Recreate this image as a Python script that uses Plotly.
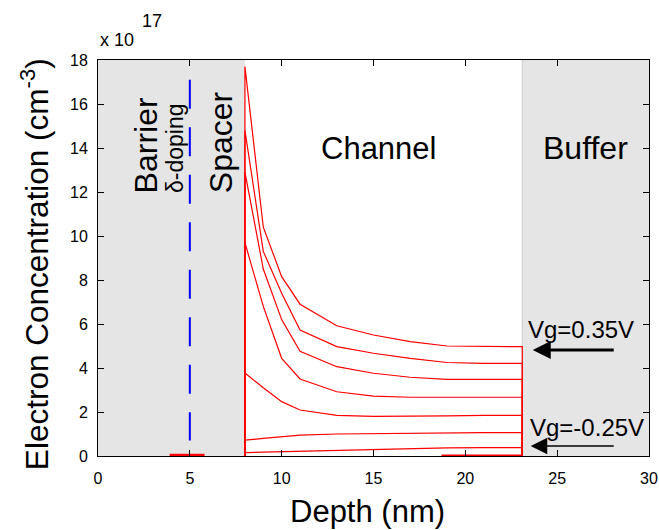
import plotly.graph_objects as go

# ---- data ----
DEPTH = [8, 9, 10, 11, 13, 15, 17, 19, 21, 23.1]
VG_LABELS = ["0.35V", "0.25V", "0.15V", "0.05V", "-0.05V", "-0.15V", "-0.25V"]
N_035 = [17.7, 10.4, 8.15, 6.9, 5.92, 5.5, 5.2, 5.0, 4.97, 4.97]
N_025 = [14.8, 9.3, 7.4, 5.73, 4.97, 4.67, 4.44, 4.25, 4.21, 4.21]
N_015 = [12.9, 8.5, 6.2, 4.76, 4.06, 3.76, 3.58, 3.48, 3.48, 3.48]
N_005 = [9.7, 6.8, 4.44, 3.5, 2.92, 2.72, 2.67, 2.67, 2.67, 2.67]
N_M005 = [3.77, 3.1, 2.47, 2.09, 1.85, 1.8, 1.8, 1.82, 1.85, 1.85]
N_M015 = [0.72, 0.8, 0.88, 0.95, 1.0, 1.02, 1.03, 1.06, 1.06, 1.06]
N_M025 = [0.15, 0.18, 0.2, 0.22, 0.28, 0.32, 0.35, 0.37, 0.38, 0.38]
SERIES = [N_035, N_025, N_015, N_005, N_M005, N_M015, N_M025]

BARRIER_DEPTH = [3.9, 5.8]
BARRIER_N = [0.05, 0.05]
FLOOR_DEPTH = [18.7, 23.1]
FLOOR_N = [0.02, 0.02]
DELTA_DEPTH = [5, 5]
DELTA_N = [17.1, 0.7]

REGIONS = [(0, 8), (23.1, 30)]
X_TICKS = [0, 5, 10, 15, 20, 25, 30]
Y_TICKS = [0, 2, 4, 6, 8, 10, 12, 14, 16, 18]

FONT = "Liberation Sans, Arial, Helvetica, sans-serif"
RED = "#ff0000"

fig = go.Figure()

for lab, vals in zip(VG_LABELS, SERIES):
    fig.add_trace(go.Scatter(
        x=[DEPTH[0]] + DEPTH + [DEPTH[-1]],
        y=[0] + vals + [0],
        mode="lines", line=dict(color=RED, width=1.2),
        name="Vg=" + lab, showlegend=False, hoverinfo="skip"))

fig.add_trace(go.Scatter(x=BARRIER_DEPTH, y=BARRIER_N, mode="lines",
                         line=dict(color=RED, width=2.5), showlegend=False))
fig.add_trace(go.Scatter(x=FLOOR_DEPTH, y=FLOOR_N, mode="lines",
                         line=dict(color=RED, width=2), showlegend=False))
fig.add_trace(go.Scatter(x=DELTA_DEPTH, y=DELTA_N, mode="lines",
                         line=dict(color="#0000ff", width=2, dash="29px,18.5px"),
                         showlegend=False))

shapes = []
for x0, x1 in REGIONS:
    shapes.append(dict(type="rect", xref="x", yref="y", x0=x0, x1=x1, y0=0, y1=18,
                       fillcolor="#e5e5e5", line=dict(width=0), layer="below"))
shapes.append(dict(type="line", xref="x", yref="y", x0=REGIONS[1][0], x1=REGIONS[1][0],
                   y0=0, y1=18, line=dict(color="#cccccc", width=1), layer="below"))

ann = []
def txt(x, y, s, size, angle=0, xanchor="center", yanchor="middle", xref="x", yref="y"):
    ann.append(dict(x=x, y=y, xref=xref, yref=yref, text=s, showarrow=False,
                    textangle=angle, xanchor=xanchor, yanchor=yanchor,
                    font=dict(family=FONT, size=size, color="black")))

txt(2.63, 11.86, "Barrier", 32, angle=-90, yanchor="bottom")
txt(4.19, 11.86, "δ-doping", 23, angle=-90, yanchor="bottom")
txt(6.7, 11.86, "Spacer", 32, angle=-90, yanchor="bottom")
txt(15.28, 13.98, "Channel", 31)
txt(26.55, 13.98, "Buffer", 32)
txt(26.28, 5.77, "Vg=0.35V", 24)
txt(26.63, 1.3, "Vg=-0.25V", 24)

# axis titles and exponent
txt(0.49, -0.141, "Depth (nm)", 31, xref="paper", yref="paper")
txt(-0.114, 0.485, "Electron Concentration (cm<sup>-3</sup>)", 31.5, angle=-90,
    xref="paper", yref="paper")
txt(0.0, 1.0505, "x 10", 18, xanchor="left", xref="paper", yref="paper")
txt(0.076, 1.098, "17", 18, xanchor="left", xref="paper", yref="paper")

# arrows
ann.append(dict(x=23.67, y=4.82, ax=28.16, ay=4.82, xref="x", yref="y", axref="x", ayref="y",
                text="", showarrow=True, arrowhead=2, arrowsize=1.2, arrowwidth=3,
                arrowcolor="black"))
ann.append(dict(x=23.56, y=0.45, ax=28.16, ay=0.45, xref="x", yref="y", axref="x", ayref="y",
                text="", showarrow=True, arrowhead=2, arrowsize=2.2, arrowwidth=1.5,
                arrowcolor="black"))

axis_common = dict(showgrid=False, zeroline=False, showline=True, linecolor="black",
                   linewidth=1, mirror="ticks", ticks="inside", ticklen=6,
                   tickcolor="black", tickwidth=1, automargin=False,
                   tickfont=dict(family=FONT, size=16, color="black"))

fig.update_layout(
    width=659, height=530, autosize=False,
    margin=dict(l=98, r=10, t=60, b=74),
    paper_bgcolor="white", plot_bgcolor="white",
    xaxis=dict(range=[0, 30], tickvals=X_TICKS, ticklabelstandoff=8, **axis_common),
    yaxis=dict(range=[0, 18], tickvals=Y_TICKS, ticklabelstandoff=6, **axis_common),
    shapes=shapes, annotations=ann, showlegend=False,
)

fig.write_html("out.html",
               config={"displayModeBar": False, "responsive": False},
               post_script="document.body.style.margin='0px';document.body.style.overflow='hidden';")
